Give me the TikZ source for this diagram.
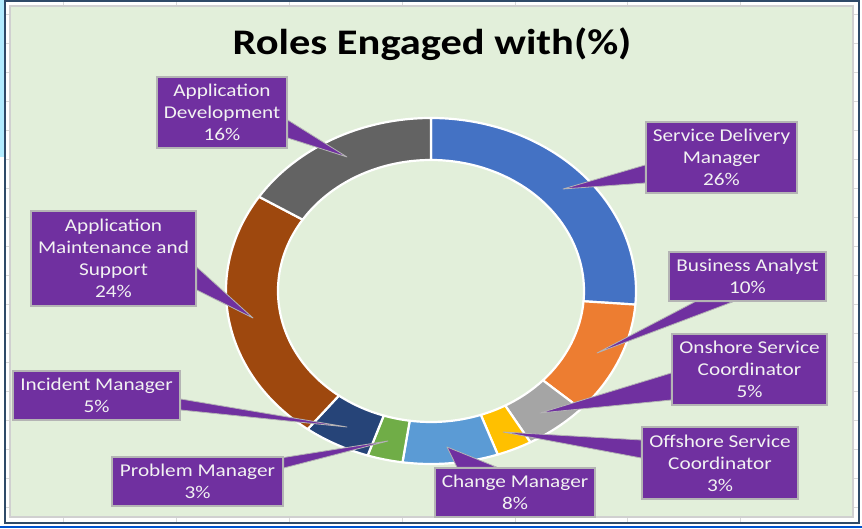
\documentclass[tikz,border=0pt]{standalone}
\usepackage{fontspec}
\setmainfont{Carlito}[FakeStretch=1.18]

\definecolor{chartbg}{HTML}{E2EFDA}
\definecolor{chartedge}{HTML}{D0D0D0}
\definecolor{frameline}{HTML}{2F4A68}
\definecolor{gridcol}{HTML}{D9D9D9}
\definecolor{calloutcol}{HTML}{7030A0}
\definecolor{calloutedge}{HTML}{B4B4B4}
\definecolor{cSDM}{HTML}{4472C4}
\definecolor{cBA}{HTML}{ED7D31}
\definecolor{cON}{HTML}{A5A5A5}
\definecolor{cOFF}{HTML}{FFC000}
\definecolor{cCM}{HTML}{5B9BD5}
\definecolor{cPM}{HTML}{70AD47}
\definecolor{cIM}{HTML}{264478}
\definecolor{cAMS}{HTML}{9E480E}
\definecolor{cAD}{HTML}{636363}

\pgfdeclarelayer{ring}
\pgfdeclarelayer{pointer}
\pgfsetlayers{ring,pointer,main}

\tikzset{
  callout/.style={fill=calloutcol, draw=calloutedge, line width=1.5pt,
    text=white!95!black, align=center, inner sep=0pt,
    font=\fontsize{18}{22}\selectfont},
  wedge/.style={fill=calloutcol, draw=calloutedge, line width=0.8pt, line join=round}
}

\begin{document}
\begin{tikzpicture}[x=1pt,y=1pt]

  \begin{pgfonlayer}{ring}
  %--- Fond et cadre ---
  \useasboundingbox (0,0) rectangle (862,529);
  \fill[white] (0,0) rectangle (862,529);
  \fill[blue!25!cyan!30] (0,529) rectangle (4,372);
  \foreach \gx in {63,176,289,402,515,627,740}
    \draw[gridcol, line width=0.8pt] (\gx,6) -- (\gx,528);
  \foreach \k in {0,...,17}
    \draw[gridcol, line width=0.8pt] (5,515-29*\k) -- (859,515-29*\k);
  \draw[frameline, line width=1.5pt] (5,528) rectangle (859,6);
  \draw[blue!60!cyan!80!black, line width=1.5pt] (0,2) -- (862,2);
  \fill[chartbg, draw=chartedge, line width=1.8pt] (10,12) rectangle (853,523);

  %--- Anneau (angles en degres, sens horaire depuis le haut) ---
  \begin{scope}[shift={(431,238)}]
    \foreach \a/\b/\c in {90/-4.5/cSDM, -4.5/-43/cBA, -43/-61/cON, -61/-71/cOFF,
                          -71/-98/cCM, -98/-108/cPM, -108/-127/cIM, -127/-213/cAMS,
                          -213/-270/cAD}
      \filldraw[fill=\c, draw=white, line width=2.2pt, line join=round]
        (\a:205 and 173) arc[start angle=\a, end angle=\b, x radius=205, y radius=173]
        -- (\b:153 and 131) arc[start angle=\b, end angle=\a, x radius=153, y radius=131]
        -- cycle;
  \end{scope}
  \end{pgfonlayer}

  %--- Titre ---
  \node[font=\bfseries\fontsize{36}{40}\selectfont] (title) at (432,485) {Roles Engaged with(\%)};

  %--- Pointes des etiquettes ---
  \coordinate (tAD)  at (347,372);
  \coordinate (tSDM) at (563,340);
  \coordinate (tAMS) at (253,211);
  \coordinate (tBA)  at (597,176);
  \coordinate (tON)  at (540,116);
  \coordinate (tOFF) at (503,97);
  \coordinate (tCM)  at (447,82);
  \coordinate (tPM)  at (388,88);
  \coordinate (tIM)  at (347,102);

  %--- Etiquettes ---
  \node[callout, minimum width=130, minimum height=71] (appdev)   at (222,416.5)  {Application\\Development\\16\%};
  \node[callout, minimum width=151, minimum height=71] (sdm)      at (721.5,371.5){Service Delivery\\Manager\\26\%};
  \node[callout, minimum width=165, minimum height=95] (ams)      at (113.5,270.5){Application\\Maintenance and\\Support\\24\%};
  \node[callout, minimum width=157, minimum height=49] (ba)       at (747.5,252.5){Business Analyst\\10\%};
  \node[callout, minimum width=155, minimum height=71] (onshore)  at (749.5,159.5){Onshore Service\\Coordinator\\5\%};
  \node[callout, minimum width=156, minimum height=72] (offshore) at (720,66)     {Offshore Service\\Coordinator\\3\%};
  \node[callout, minimum width=160, minimum height=49] (change)   at (515,36.5)   {Change Manager\\8\%};
  \node[callout, minimum width=171, minimum height=49] (problem)  at (197.5,47.5) {Problem Manager\\3\%};
  \node[callout, minimum width=167, minimum height=49] (incident) at (96.5,133.5) {Incident Manager\\5\%};

  %--- Pointes (sous les boites) ---
  \begin{pgfonlayer}{pointer}
  \filldraw[wedge] ([yshift=-7.5]appdev.east) -- (tAD) -- ([yshift=-25.5]appdev.east) -- cycle;
  \filldraw[wedge] ([yshift=-7.5]sdm.west) -- (tSDM) -- ([yshift=-25.5]sdm.west) -- cycle;
  \filldraw[wedge] ([yshift=-8.5]ams.east) -- (tAMS) -- ([yshift=-31.5]ams.east) -- cycle;
  \filldraw[wedge] ([xshift=-52.5]ba.south) -- (tBA) -- ([xshift=-14.5]ba.south) -- cycle;
  \filldraw[wedge] ([yshift=-3.5]onshore.west) -- (tON) -- ([yshift=-30.5]onshore.west) -- cycle;
  \filldraw[wedge] ([yshift=23]offshore.west) -- (tOFF) -- ([yshift=5]offshore.west) -- cycle;
  \filldraw[wedge] ([xshift=-58]change.north) -- (tCM) -- ([xshift=-18]change.north) -- cycle;
  \filldraw[wedge] ([yshift=24]problem.east) -- (tPM) -- ([yshift=13.5]problem.east) -- cycle;
  \filldraw[wedge] ([yshift=-3.5]incident.east) -- (tIM) -- ([yshift=-14.5]incident.east) -- cycle;
  \end{pgfonlayer}

\end{tikzpicture}
\end{document}
